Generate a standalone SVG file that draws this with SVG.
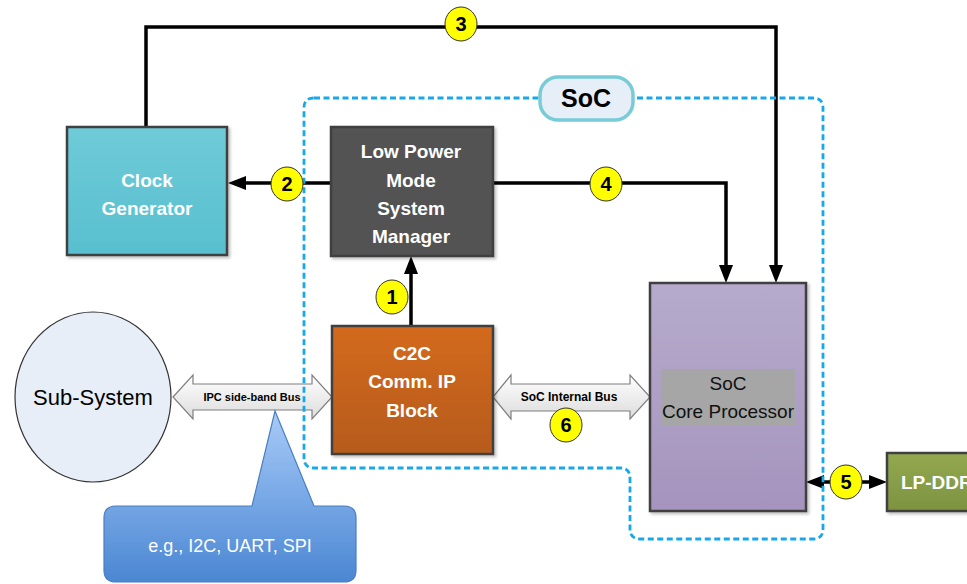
<svg xmlns="http://www.w3.org/2000/svg" width="967" height="584" viewBox="0 0 967 584">
<style>
text{font-family:"Liberation Sans",Arial,sans-serif}
.box{stroke:#404040;stroke-width:2.5}
.wt{fill:#fff;font-weight:bold;font-size:19px;text-anchor:middle}
.conn{fill:none;stroke:#000;stroke-width:3.5}
.num{fill:#ffff00;stroke:#333;stroke-width:1}
.nt{font-weight:bold;font-size:20px;text-anchor:middle;fill:#000}
.bus{stroke:#7f7f7f;stroke-width:1.2}
.bt{font-weight:bold;text-anchor:middle;fill:#000}
.dash{fill:none;stroke:#16a8ea;stroke-width:2.8;stroke-dasharray:6 3.5}
</style>
<defs>
<marker id="ah" markerUnits="userSpaceOnUse" viewBox="0 0 18 14" markerWidth="18" markerHeight="14" refX="10" refY="7" orient="auto-start-reverse"><path d="M0,0 L18,7 L0,14 Z" fill="#000"/></marker>
<filter id="sh" x="-10%" y="-10%" width="130%" height="130%"><feDropShadow dx="2" dy="2" stdDeviation="1.5" flood-color="#000" flood-opacity="0.25"/></filter>
<linearGradient id="gClk" x1="0" y1="0" x2="0" y2="1"><stop offset="0" stop-color="#6fcbd7"/><stop offset="1" stop-color="#58bfcf"/></linearGradient>
<linearGradient id="gC2C" x1="0" y1="0" x2="0" y2="1"><stop offset="0" stop-color="#d36a1a"/><stop offset="1" stop-color="#b65b1a"/></linearGradient>
<linearGradient id="gCore" x1="0" y1="0" x2="0" y2="1"><stop offset="0" stop-color="#b6abcc"/><stop offset="1" stop-color="#a594be"/></linearGradient>
<linearGradient id="gDDR" x1="0" y1="0" x2="0" y2="1"><stop offset="0" stop-color="#93a84f"/><stop offset="1" stop-color="#7d9340"/></linearGradient>
<linearGradient id="gBus" x1="0" y1="0" x2="0" y2="1"><stop offset="0" stop-color="#ffffff"/><stop offset="1" stop-color="#dcdcdc"/></linearGradient>
<linearGradient id="gCall" gradientUnits="userSpaceOnUse" x1="0" y1="411" x2="0" y2="584"><stop offset="0" stop-color="#a9cbf7"/><stop offset="0.5" stop-color="#78a8e6"/><stop offset="1" stop-color="#4a86d2"/></linearGradient>
</defs>
<rect width="967" height="584" fill="#fff"/>

<g id="connectors">
<path class="conn" d="M146,127 V27 H776 V275" marker-end="url(#ah)"/>
<path class="conn" d="M490,183 H726 V275" marker-end="url(#ah)"/>
<path class="conn" d="M333,183 H236" marker-end="url(#ah)"/>
<path class="conn" d="M411,326 V264" marker-end="url(#ah)"/>
<path class="conn" d="M814,482 H879" marker-start="url(#ah)" marker-end="url(#ah)"/>
<g id="ipc-bus">
<polygon class="bus" fill="url(#gBus)" points="173,397 193,375 193,384 312,384 312,375 332,397 312,419 312,410 193,410 193,419"/>
<text class="bt" x="252" y="401" font-size="11">IPC side-band Bus</text>
</g>
<g id="soc-bus">
<polygon class="bus" fill="url(#gBus)" points="493,397 511,375 511,384 630,384 630,375 650,397 630,419 630,411 511,411 511,419"/>
<text class="bt" x="569" y="401" font-size="12">SoC Internal Bus</text>
</g>
</g>

<g id="soc-boundary">
<path class="dash" d="M314,98 H813 Q823,98 823,108 V529 Q823,539 813,539 H640 Q630,539 630,529 V478 Q630,468 620,468 H314 Q304,468 304,458 V108 Q304,98 314,98 Z"/>
<rect x="540" y="77" width="93" height="43" rx="18" fill="#e6eef8" stroke="#78ccd8" stroke-width="3.5"/>
<text x="586" y="107" font-size="25" font-weight="bold" text-anchor="middle" fill="#000">SoC</text>
</g>

<g id="labels">
<g id="n3"><ellipse class="num" cx="461" cy="24" rx="16" ry="17"/><text class="nt" x="461" y="31">3</text></g>
<g id="n2"><ellipse class="num" cx="287" cy="184" rx="16" ry="17"/><text class="nt" x="287" y="191">2</text></g>
<g id="n4"><ellipse class="num" cx="606" cy="184" rx="16" ry="17"/><text class="nt" x="606" y="191">4</text></g>
<g id="n1"><ellipse class="num" cx="392" cy="297" rx="16" ry="17"/><text class="nt" x="392" y="304">1</text></g>
<g id="n6"><ellipse class="num" cx="566" cy="425" rx="16" ry="17"/><text class="nt" x="566" y="432">6</text></g>
<g id="n5"><ellipse class="num" cx="846" cy="482" rx="16" ry="17"/><text class="nt" x="846" y="489">5</text></g>
</g>

<g id="clock-generator">
<rect class="box" x="67" y="127" width="160" height="128" fill="url(#gClk)" filter="url(#sh)"/>
<text class="wt" x="147" y="187">Clock</text>
<text class="wt" x="147" y="215">Generator</text>
</g>

<g id="low-power-manager">
<rect class="box" x="331" y="127" width="162" height="129" fill="#535353" stroke="#3a3a3a" filter="url(#sh)"/>
<text class="wt" x="411" y="158">Low Power</text>
<text class="wt" x="411" y="187">Mode</text>
<text class="wt" x="411" y="215">System</text>
<text class="wt" x="411" y="243">Manager</text>
</g>

<g id="c2c-block">
<rect class="box" x="332" y="326" width="161" height="128" fill="url(#gC2C)" filter="url(#sh)"/>
<text class="wt" x="412" y="360">C2C</text>
<text class="wt" x="412" y="388">Comm. IP</text>
<text class="wt" x="412" y="417">Block</text>
</g>

<g id="soc-core">
<rect class="box" x="650" y="283" width="156" height="228" fill="url(#gCore)" filter="url(#sh)"/>
<rect x="661" y="369" width="134" height="57" fill="#a6a6a6"/>
<text x="728" y="390" font-size="19" text-anchor="middle" fill="#111">SoC</text>
<text x="728" y="418" font-size="19" text-anchor="middle" fill="#111">Core Processor</text>
</g>

<g id="lp-ddr">
<rect class="box" x="887" y="453" width="90" height="58" fill="url(#gDDR)" stroke="#505050" filter="url(#sh)"/>
<text x="901" y="489" font-size="19" font-weight="bold" fill="#fff">LP-DDR</text>
</g>

<g id="sub-system">
<ellipse cx="93" cy="397" rx="78" ry="85" fill="#e8eef8" stroke="#333" stroke-width="1.2"/>
<text x="93" y="405" font-size="22" text-anchor="middle" fill="#000">Sub-System</text>
</g>

<g id="callout">
<path d="M116,506 H252 L275,411 L314,506 H344 Q356,506 356,518 V570 Q356,582 344,582 H116 Q104,582 104,570 V518 Q104,506 116,506 Z" fill="url(#gCall)" stroke="#4a7ec0" stroke-width="1.2"/>
<text x="230" y="552" font-size="18" text-anchor="middle" fill="#fff">e.g., I2C, UART, SPI</text>
</g>
</svg>
